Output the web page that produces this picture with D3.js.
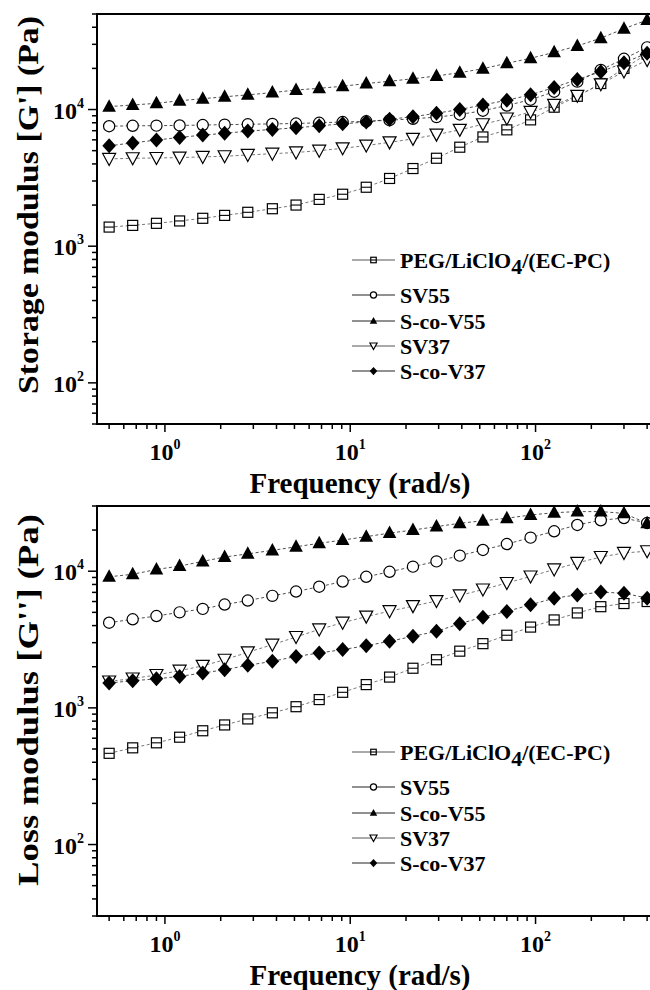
<!DOCTYPE html>
<html>
<head>
<meta charset="utf-8">
<script src="https://cdn.jsdelivr.net/npm/d3@7"></script>
<style>
  body { margin: 0; background: #fff; }
  svg { display: block; font-family: "Liberation Serif", "Times New Roman", serif; font-weight: bold; }
</style>
</head>
<body>
<div id="main"></div>
<script>
// frequency sweep (rad/s)
const freq = [0.5, 0.67, 0.9, 1.2, 1.6, 2.1, 2.8, 3.8, 5.1, 6.8, 9.1, 12.2, 16.3, 21.8, 29.2, 39, 52, 70, 94, 126, 168, 225, 300, 400];

const seriesNames = ["PEG/LiClO4/(EC-PC)", "SV55", "S-co-V55", "SV37", "S-co-V37"];

// storage modulus G' (Pa)
const gpPEG   = [1380, 1420, 1470, 1530, 1600, 1680, 1770, 1880, 2000, 2200, 2400, 2700, 3130, 3700, 4400, 5300, 6300, 7100, 8400, 10400, 12500, 15500, 20000, 25500];
const gpSV55  = [7550, 7600, 7620, 7650, 7700, 7750, 7800, 7850, 7900, 8000, 8100, 8200, 8350, 8550, 8800, 9200, 9800, 10700, 11800, 13500, 16000, 19500, 23500, 28500];
const gpSCV55 = [10500, 10800, 11100, 11600, 12000, 12400, 12800, 13300, 13900, 14300, 14800, 15500, 16100, 16800, 17600, 18600, 19900, 21800, 23700, 26200, 29200, 33300, 39000, 45200];
const gpSV37  = [4350, 4400, 4420, 4450, 4500, 4550, 4650, 4750, 4850, 5000, 5200, 5450, 5750, 6100, 6550, 7100, 7800, 8600, 9600, 10800, 12600, 15300, 19000, 23000];
const gpSCV37 = [5430, 5700, 5980, 6250, 6500, 6700, 6950, 7150, 7350, 7600, 7860, 8100, 8500, 8850, 9400, 10000, 10800, 11700, 12800, 14500, 16600, 18900, 22000, 25800];

// loss modulus G'' (Pa)
const gppPEG   = [465, 510, 555, 610, 680, 750, 830, 920, 1020, 1150, 1300, 1480, 1680, 1950, 2250, 2600, 2950, 3400, 3900, 4400, 4950, 5500, 5800, 6000];
const gppSV55  = [4200, 4450, 4700, 5000, 5300, 5700, 6100, 6600, 7100, 7700, 8400, 9100, 9900, 10800, 11800, 13000, 14300, 15800, 17600, 19600, 21800, 23600, 24500, 22500];
const gppSCV55 = [9100, 9500, 10300, 10900, 11800, 12700, 13400, 14200, 15100, 16000, 16900, 17900, 19000, 20000, 21200, 22400, 23400, 24400, 25800, 26800, 27300, 27300, 26500, 22400];
const gppSV37  = [1560, 1640, 1740, 1870, 2030, 2250, 2550, 2900, 3300, 3750, 4200, 4650, 5100, 5550, 6050, 6650, 7350, 8200, 9150, 10300, 11500, 12700, 13600, 14000];
const gppSCV37 = [1520, 1580, 1630, 1700, 1800, 1900, 2050, 2190, 2380, 2520, 2670, 2850, 3070, 3340, 3630, 4130, 4610, 5080, 5680, 6350, 6710, 7030, 6900, 6350];

const width = 650, height = 990;
const svg = d3.select('#main').append('svg').attr('width', width).attr('height', height);

const x = d3.scaleLog().domain([0.43, 425]).range([97, 652]);

const markerOf = ['square', 'circle', 'triUp', 'triDown', 'diamond'];
const joinColor = ['#555', '#222', '#222', '#555', '#222'];

function marker(g, type, s) {
  if (type === 'square') {
    g.append('rect').attr('x', -5 * s).attr('y', -5 * s).attr('width', 10 * s).attr('height', 10 * s)
      .attr('fill', '#fff').attr('stroke', '#000').attr('stroke-width', 1.2);
    g.append('line').attr('x1', -5 * s).attr('x2', 5 * s).attr('stroke', '#000').attr('stroke-width', 1.1);
  } else if (type === 'circle') {
    g.append('circle').attr('r', 5.6 * s).attr('fill', '#fff').attr('stroke', '#000').attr('stroke-width', 1.2);
  } else if (type === 'triUp') {
    g.append('path').attr('d', `M0,${-7.5 * s}L${6.8 * s},${5 * s}L${-6.8 * s},${5 * s}Z`).attr('fill', '#000');
  } else if (type === 'triDown') {
    g.append('path').attr('d', `M0,${6.5 * s}L${6.5 * s},${-5.5 * s}L${-6.5 * s},${-5.5 * s}Z`)
      .attr('fill', '#fff').attr('stroke', '#000').attr('stroke-width', 1.2);
  } else {
    g.append('path').attr('d', `M0,${-7.5 * s}L${6.8 * s},0L0,${7.5 * s}L${-6.8 * s},0Z`).attr('fill', '#000');
  }
}

function powLabel(sel, exp, size, supSize) {
  sel.append('tspan').text('10').attr('font-size', size);
  sel.append('tspan').text(exp).attr('font-size', supSize).attr('dy', -size * 0.45);
}

function panel(cfg) {
  const y = d3.scaleLog().domain(cfg.domain).range([cfg.bottom, cfg.top]);
  const g = svg.append('g');
  const L = x.range()[0], R = x.range()[1];

  // series: dashed joins, then markers
  cfg.series.forEach((vals, i) => {
    const pts = freq.map((f, k) => [f, vals[k]]);
    g.append('path').datum(pts)
      .attr('d', d3.line().x(d => x(d[0])).y(d => y(d[1])))
      .attr('fill', 'none').attr('stroke', joinColor[i]).attr('stroke-width', 0.8)
      .attr('stroke-dasharray', '3,2.5');
  });
  cfg.series.forEach((vals, i) => {
    g.append('g').selectAll('g').data(freq).join('g')
      .attr('transform', (f, k) => `translate(${x(f)},${y(vals[k])})`)
      .each(function () { marker(d3.select(this), markerOf[i], 1); });
  });

  // frame
  g.append('path').attr('d', `M${L},${cfg.bottom}V${cfg.top}H${R + 5}`)
    .attr('fill', 'none').attr('stroke', '#000').attr('stroke-width', 2);
  g.append('line').attr('x1', L - 1).attr('x2', R + 5).attr('y1', cfg.bottom).attr('y2', cfg.bottom)
    .attr('stroke', '#000').attr('stroke-width', 2);

  // x ticks
  const isMajor = v => Math.abs(Math.log10(v) - Math.round(Math.log10(v))) < 1e-6;
  x.ticks().forEach(v => {
    const major = isMajor(v);
    g.append('line').attr('x1', x(v)).attr('x2', x(v))
      .attr('y1', cfg.bottom).attr('y2', cfg.bottom + (major ? 8 : 5))
      .attr('stroke', '#000').attr('stroke-width', 1.5);
    if (major) {
      g.append('text').attr('x', x(v)).attr('y', cfg.bottom + 36).attr('text-anchor', 'middle')
        .call(powLabel, Math.round(Math.log10(v)), 24, 14);
    }
  });
  // y ticks
  y.ticks().forEach(v => {
    const major = isMajor(v);
    g.append('line').attr('x1', L).attr('x2', L - (major ? 9 : 5))
      .attr('y1', y(v)).attr('y2', y(v))
      .attr('stroke', '#000').attr('stroke-width', 1.5);
    if (major) {
      g.append('text').attr('x', 84).attr('y', y(v) + 9).attr('text-anchor', 'end')
        .call(powLabel, Math.round(Math.log10(v)), 24, 14);
    }
  });

  // axis titles
  g.append('text').attr('x', 360).attr('y', cfg.bottom + 69).attr('text-anchor', 'middle')
    .attr('font-size', 29).text('Frequency (rad/s)');
  g.append('text').attr('transform', `translate(38,${cfg.labelY}) rotate(-90)`)
    .attr('text-anchor', 'middle').attr('font-size', 30)
    .attr('textLength', cfg.labelLen).attr('lengthAdjust', 'spacingAndGlyphs')
    .text(cfg.ylabel);

  // legend
  const rows = [0, 35, 61, 86, 111];
  seriesNames.forEach((name, i) => {
    const ly = cfg.legendY + rows[i];
    const lg = g.append('g');
    lg.append('line').attr('x1', 352).attr('x2', 395).attr('y1', ly).attr('y2', ly)
      .attr('stroke', joinColor[i]).attr('stroke-width', 1);
    const m = lg.append('g').attr('transform', `translate(373.5,${ly})`);
    marker(m, markerOf[i], 0.55);
    const t = lg.append('text').attr('x', 400).attr('y', ly + 8).attr('font-size', 22);
    if (i === 0) {
      t.append('tspan').text('PEG/LiClO');
      t.append('tspan').text('4').attr('dy', 6);
      t.append('tspan').text('/(EC-PC)').attr('dy', -6);
    } else {
      t.text(name);
    }
  });
}

panel({
  top: 14, bottom: 424, domain: [50, 5e4],
  series: [gpPEG, gpSV55, gpSCV55, gpSV37, gpSCV37],
  ylabel: "Storage modulus [G'] (Pa)", labelY: 205, labelLen: 378,
  legendY: 260
});
panel({
  top: 506, bottom: 916, domain: [30, 3e4],
  series: [gppPEG, gppSV55, gppSCV55, gppSV37, gppSCV37],
  ylabel: "Loss modulus [G''] (Pa)", labelY: 700, labelLen: 372,
  legendY: 752
});
</script>
</body>
</html>
